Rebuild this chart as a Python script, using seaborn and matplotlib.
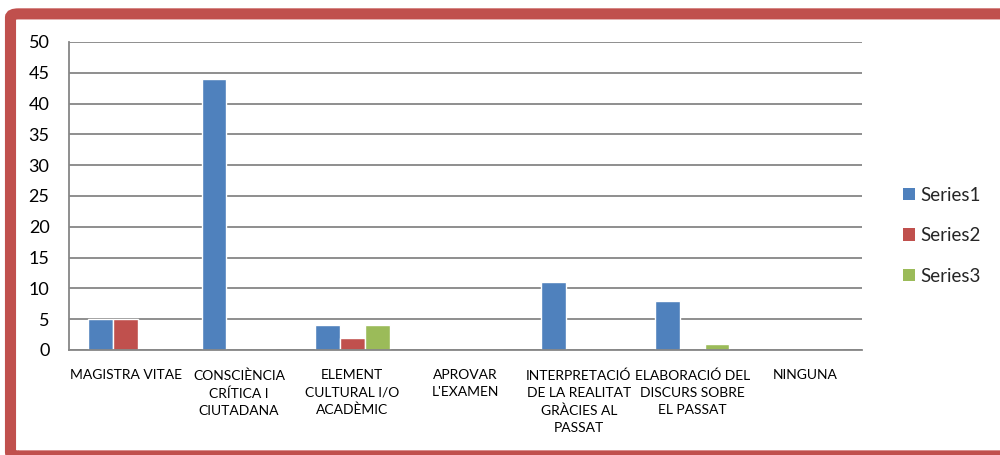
import matplotlib
matplotlib.use("Agg")
import matplotlib.pyplot as plt
import seaborn as sns
import pandas as pd
from matplotlib.patches import FancyBboxPatch, Patch

categories = ["MAGISTRA VITAE", "CONSCIÈNCIA\nCRÍTICA I\nCIUTADANA", "ELEMENT\nCULTURAL I/O\nACADÈMIC",
              "APROVAR\nL'EXAMEN", "INTERPRETACIÓ\nDE LA REALITAT\nGRÀCIES AL\nPASSAT",
              "ELABORACIÓ DEL\nDISCURS SOBRE\nEL PASSAT", "NINGUNA"]
series_names = ["Series1", "Series2", "Series3"]
series1 = [5, 44, 4, 0, 11, 8, 0]
series2 = [5, 0, 2, 0, 0, 0, 0]
series3 = [0, 0, 4, 0, 0, 1, 0]
colors = ["#4F81BD", "#C0504D", "#9BBB59"]

rows = []
for name, vals in zip(series_names, [series1, series2, series3]):
    for c, v in zip(categories, vals):
        rows.append({"cat": c, "val": v, "series": name})
df = pd.DataFrame(rows)

sns.set_theme(style="white")
plt.rcParams["font.family"] = ["Lato", "DejaVu Sans"]

fig = plt.figure(figsize=(10, 4.55), dpi=100)
ax = fig.add_axes([0.069, 0.2308, 0.793, 0.6769])

sns.barplot(data=df, x="cat", y="val", hue="series", palette=colors, width=0.66,
            ax=ax, legend=False, saturation=1, errorbar=None)

grid_c = "#868686"
ax.set_ylim(0, 50)
ax.set_xlim(-0.5, len(categories) - 0.5)
ax.set_yticks(range(0, 51, 5))
ax.yaxis.grid(True, color=grid_c, linewidth=1.3)
ax.set_axisbelow(True)
ax.set_xlabel("")
ax.set_ylabel("")
for s in ["top", "right"]:
    ax.spines[s].set_visible(False)
for s in ["left", "bottom"]:
    ax.spines[s].set_color(grid_c)
    ax.spines[s].set_linewidth(1.3)

ax.set_xticks([i - 0.5 for i in range(len(categories) + 1)], minor=True)
ax.set_xticks(range(len(categories)))
ax.set_xticklabels(categories, fontsize=10, linespacing=1.5, va="top")
ax.tick_params(axis="x", which="major", length=0, pad=14, labelcolor="black")
ax.tick_params(axis="x", which="minor", length=4, width=1.3, color=grid_c, direction="out")
ax.tick_params(axis="y", length=5, width=1.3, color=grid_c, labelsize=13, pad=9, labelcolor="black")

handles = [Patch(facecolor=c, edgecolor="none") for c in colors]
fig.legend(handles, series_names, loc="center left", bbox_to_anchor=(0.886, 0.482),
           frameon=False, fontsize=13.5, handlelength=0.65, handleheight=0.65,
           handletextpad=0.3, labelspacing=1.25)

frame = FancyBboxPatch((0.0105, -0.002), 1.2, 0.9695 - (-0.002),
                       boxstyle="round,pad=0,rounding_size=0.008",
                       transform=fig.transFigure, facecolor="none",
                       edgecolor="#C0504D", linewidth=8, clip_on=False,
                       joinstyle="miter")
fig.patches.append(frame)

fig.savefig("out.png", dpi=100)
